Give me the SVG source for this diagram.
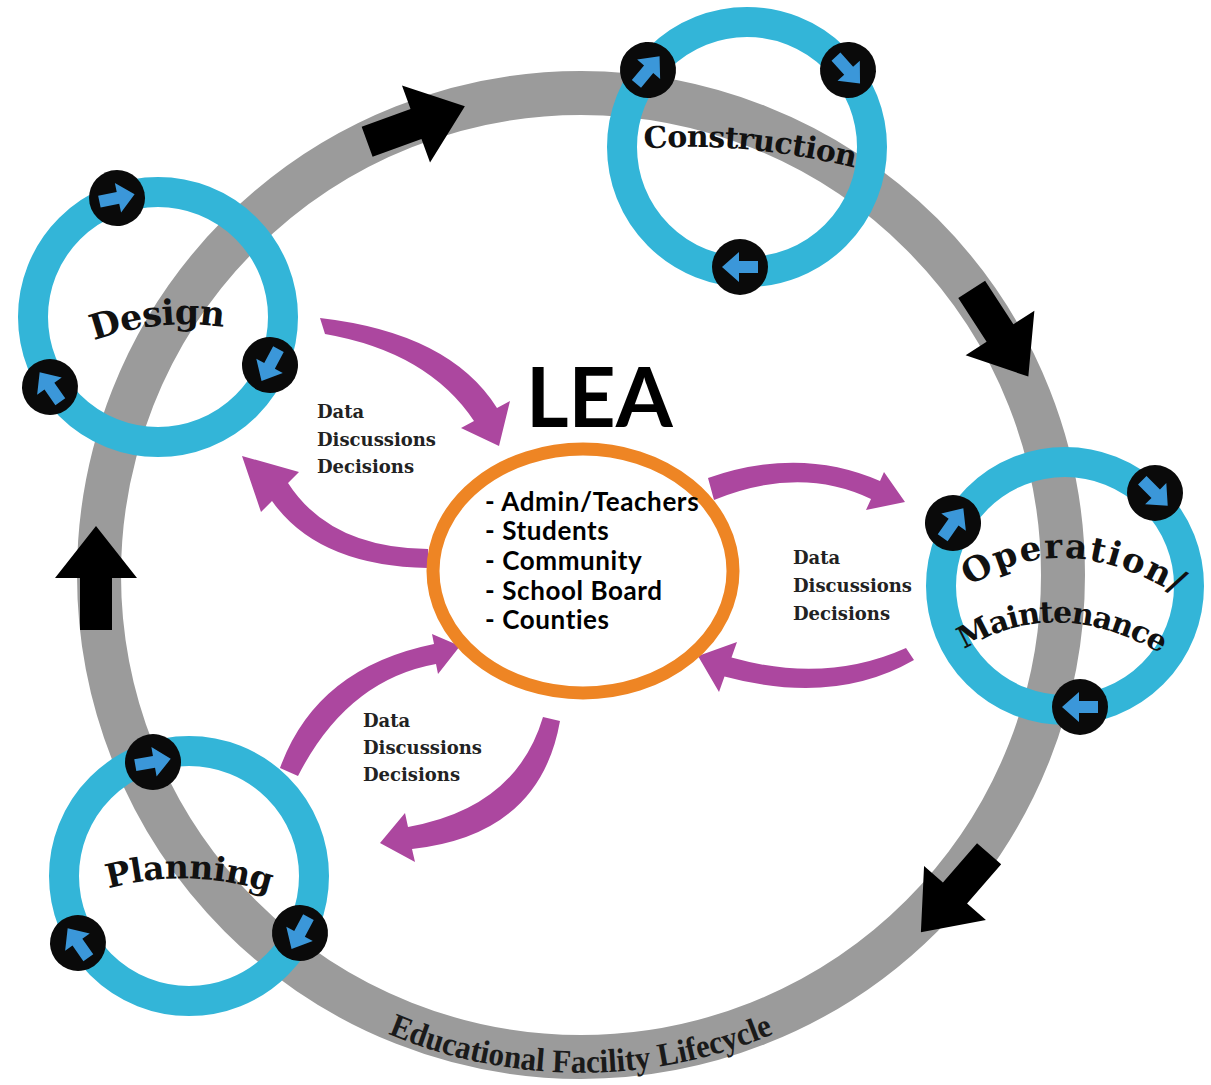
<svg xmlns="http://www.w3.org/2000/svg" width="1211" height="1085" viewBox="0 0 1211 1085">
  <style>
    .track{fill:none;stroke:#9b9b9b;stroke-width:44}
    .ring{fill:none;stroke:#33b5d8;stroke-width:30}
    .badge{fill:#0a0a0a}
    .barrow{fill:#3b97d9}
    .flow{fill:#000}
    .link{fill:#ac479f}
    .stage{font-family:"DejaVu Serif",serif;font-weight:bold;fill:#111}
    .note{font-family:"DejaVu Serif",serif;font-weight:bold;font-size:18px;fill:#222}
    .title{font-family:"Liberation Serif",serif;font-weight:bold;font-size:33px;fill:#1a1a1a}
    .lea{font-family:Lato,"Open Sans",sans-serif;font-weight:bold;fill:#000}
  </style>
  <defs>
    <path id="flow-arrow" d="M-52,-16 L0,-16 L0,-41 L52,0 L0,41 L0,16 L-52,16 Z"/>
    <g id="badge">
      <circle r="28" class="badge"/>
      <path class="barrow" d="M-18,-6 L1,-6 L1,-15 L18,0 L1,15 L1,6 L-18,6 Z"/>
    </g>
    <path id="p-lifecycle" d="M261,956 A497,497 0 0 0 901,956"/>
    <path id="p-design" d="M90,342 Q160,316 228,328"/>
    <path id="p-construction" d="M643,149 Q740,140 856,168"/>
    <path id="p-operation" d="M962,592 Q1060,520 1185,600"/>
    <path id="p-maintenance" d="M960,652 Q1055,591 1165,656"/>
    <path id="p-planning" d="M106,889 Q188,866 272,893"/>
  </defs>

  <rect width="1211" height="1085" fill="#fff"/>

  <!-- lifecycle track -->
  <g id="lifecycle">
    <circle class="track" cx="581" cy="575" r="482"/>
    <text class="title"><textPath href="#p-lifecycle" startOffset="50%" text-anchor="middle" textLength="396" lengthAdjust="spacingAndGlyphs">Educational Facility Lifecycle</textPath></text>
  </g>

  <g id="connectors">
    <!-- direction of the lifecycle -->
    <use href="#flow-arrow" class="flow" transform="translate(416,124) rotate(-20)"/>
    <use href="#flow-arrow" class="flow" transform="translate(1000,333) rotate(57)"/>
    <use href="#flow-arrow" class="flow" transform="translate(955,893) rotate(131)"/>
    <use href="#flow-arrow" class="flow" transform="translate(96,578) rotate(-90)"/>

    <!-- exchanges with the LEA -->
    <path class="link" d="M320,318 Q450,333 497,408 L510,401 L499,446 L461,428 L474,421 Q428,352 325,334 Z"/>
    <path class="link" d="M428,549 Q330,548 288,483 L299,472 L242,456 L261,512 L272,501 Q318,566 428,568 Z"/>
    <path class="link" d="M708,478 Q800,446 880,481 L884,472 L905,502 L866,510 L871,499 Q800,465 714,500 Z"/>
    <path class="link" d="M906,648 Q826,684 731.5,657.6 L737,642 L698,656 L719,692 L724.5,676.4 Q834,706 914,660 Z"/>
    <path class="link" d="M280,768 Q316,668 434,644 L432,634 L460,646 L438,674 L436,664 Q347,680 298,776 Z"/>
    <path class="link" d="M543,717 Q516,808 408,827 L405,813 L380,843 L415,862 L412,849 Q540,835 560,721 Z"/>

    <text class="note" x="317" y="418">Data</text>
    <text class="note" x="317" y="446">Discussions</text>
    <text class="note" x="317" y="473">Decisions</text>

    <text class="note" x="793" y="564">Data</text>
    <text class="note" x="793" y="592">Discussions</text>
    <text class="note" x="793" y="620">Decisions</text>

    <text class="note" x="363" y="727">Data</text>
    <text class="note" x="363" y="754">Discussions</text>
    <text class="note" x="363" y="781">Decisions</text>
  </g>

  <g id="node-design">
    <circle class="ring" cx="158" cy="317" r="125"/>
    <use href="#badge" transform="translate(117,198) rotate(-12)"/>
    <use href="#badge" transform="translate(270,365) rotate(118)"/>
    <use href="#badge" transform="translate(50,387) rotate(-125)"/>
    <text class="stage" font-size="35"><textPath href="#p-design" startOffset="50%" text-anchor="middle" textLength="132" lengthAdjust="spacing">Design</textPath></text>
  </g>

  <g id="node-construction">
    <circle class="ring" cx="747" cy="147" r="125"/>
    <use href="#badge" transform="translate(648,70) rotate(-50)"/>
    <use href="#badge" transform="translate(848,70) rotate(48)"/>
    <use href="#badge" transform="translate(740,267) rotate(180)"/>
    <text class="stage" font-size="30"><textPath href="#p-construction" startOffset="50%" text-anchor="middle" textLength="212" lengthAdjust="spacing">Construction</textPath></text>
  </g>

  <g id="node-operation">
    <circle class="ring" cx="1065" cy="586" r="124"/>
    <use href="#badge" transform="translate(953,523) rotate(-55)"/>
    <use href="#badge" transform="translate(1155,493) rotate(45)"/>
    <use href="#badge" transform="translate(1080,707) rotate(180)"/>
    <text class="stage" font-size="34"><textPath href="#p-operation" startOffset="50%" text-anchor="middle" textLength="220" lengthAdjust="spacing">Operation/</textPath></text>
    <text class="stage" font-size="30"><textPath href="#p-maintenance" startOffset="50%" text-anchor="middle" textLength="208" lengthAdjust="spacing">Maintenance</textPath></text>
  </g>

  <g id="node-planning">
    <circle class="ring" cx="189" cy="876" r="125"/>
    <use href="#badge" transform="translate(153,762) rotate(-10)"/>
    <use href="#badge" transform="translate(300,933) rotate(118)"/>
    <use href="#badge" transform="translate(78,943) rotate(-125)"/>
    <text class="stage" font-size="33"><textPath href="#p-planning" startOffset="50%" text-anchor="middle" textLength="164" lengthAdjust="spacing">Planning</textPath></text>
  </g>

  <g id="node-lea">
    <ellipse cx="583" cy="571" rx="150" ry="122" fill="none" stroke="#ee8524" stroke-width="13"/>
    <text class="lea" x="526" y="427" font-size="82">LEA</text>
    <g class="lea" font-size="26" letter-spacing="0.6">
      <text x="485" y="511">- Admin/Teachers</text>
      <text x="485" y="540">- Students</text>
      <text x="485" y="570">- Community</text>
      <text x="485" y="600">- School Board</text>
      <text x="485" y="629">- Counties</text>
    </g>
  </g>
</svg>
